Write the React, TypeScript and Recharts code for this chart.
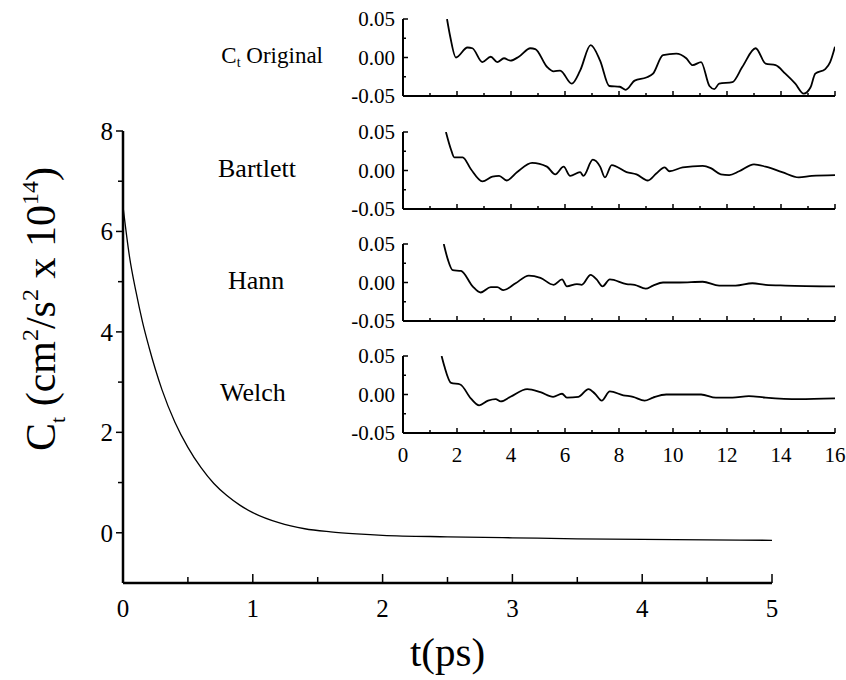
import React from "react";
import { LineChart, Line, XAxis, YAxis } from "recharts";

// main decay curve, C_t in units of 1e14 cm^2/s^2
const mainT = [0, 0.05, 0.1, 0.15, 0.2, 0.25, 0.3, 0.4, 0.5, 0.6, 0.7, 0.8, 0.9, 1.0, 1.2, 1.4, 1.6, 1.8, 2.0, 2.5, 3.0, 3.5, 4.0, 4.5, 5.0];
const mainC = [6.5, 5.5, 4.8, 4.2, 3.7, 3.25, 2.85, 2.2, 1.7, 1.3, 0.98, 0.74, 0.55, 0.4, 0.2, 0.08, 0.02, -0.02, -0.05, -0.08, -0.1, -0.12, -0.13, -0.14, -0.15];

// inset series (t in ps)
const origT = [1.63, 1.75, 1.96, 2.39, 2.57, 2.94, 3.25, 3.49, 3.74, 3.98, 4.29, 4.72, 4.9, 5.33, 5.58, 5.82, 6.25, 6.56, 6.95, 7.3, 7.64, 8.03, 8.25, 8.58, 9.01, 9.26, 9.63, 10.12, 10.49, 10.73, 11.04, 11.35, 11.53, 11.71, 12.2, 12.57, 13.06, 13.43, 13.8, 14.16, 14.53, 14.84, 15.09, 15.27, 15.64, 15.82, 16.0];
const origC = [0.05, 0.027, 0.0, 0.013, 0.012, -0.006, 0.001, -0.006, -0.001, -0.004, 0.001, 0.012, 0.011, -0.012, -0.018, -0.017, -0.034, -0.017, 0.016, -0.004, -0.037, -0.038, -0.042, -0.03, -0.026, -0.021, 0.003, 0.005, -0.001, -0.01, -0.006, -0.037, -0.041, -0.034, -0.032, -0.012, 0.012, -0.008, -0.01, -0.021, -0.034, -0.047, -0.039, -0.021, -0.015, -0.006, 0.014];

const bartT = [1.59, 1.78, 1.9, 2.21, 2.51, 2.94, 3.31, 3.56, 3.84, 4.23, 4.78, 5.33, 5.64, 5.95, 6.19, 6.56, 6.68, 7.03, 7.3, 7.48, 7.73, 8.28, 8.65, 9.07, 9.38, 9.69, 9.87, 10.36, 11.1, 11.4, 11.77, 12.08, 12.45, 13.0, 13.43, 14.04, 14.66, 15.14, 16.0];
const bartC = [0.05, 0.027, 0.017, 0.017, 0.002, -0.014, -0.008, -0.007, -0.013, -0.002, 0.01, 0.005, -0.005, 0.005, -0.007, -0.002, -0.007, 0.014, 0.005, -0.009, 0.007, -0.002, -0.005, -0.013, -0.004, 0.004, -0.001, 0.004, 0.006, 0.003, -0.005, -0.006, -0.001, 0.008, 0.005, -0.002, -0.009, -0.007, -0.006];

const hannT = [1.51, 1.66, 1.84, 2.15, 2.58, 2.88, 3.25, 3.49, 3.72, 4.17, 4.66, 5.09, 5.58, 5.89, 6.07, 6.44, 6.62, 6.95, 7.17, 7.39, 7.66, 8.28, 8.58, 8.99, 9.26, 9.63, 10.24, 11.1, 11.71, 12.32, 12.94, 13.43, 14.16, 16.0];
const hannC = [0.05, 0.03, 0.016, 0.015, -0.005, -0.013, -0.006, -0.006, -0.01, -0.001, 0.009, 0.006, -0.003, 0.004, -0.005, -0.002, -0.003, 0.01, 0.004, -0.005, 0.004, -0.002, -0.003, -0.008, -0.004, 0.0, 0.0, 0.001, -0.004, -0.004, -0.001, -0.003, -0.004, -0.005];

const welchT = [1.43, 1.53, 1.78, 2.12, 2.51, 2.82, 3.15, 3.43, 3.62, 3.98, 4.6, 5.09, 5.56, 5.89, 6.07, 6.5, 6.87, 7.11, 7.36, 7.66, 8.16, 8.52, 8.95, 9.26, 9.75, 10.49, 11.04, 11.59, 12.2, 12.81, 13.43, 14.66, 16.0];
const welchC = [0.05, 0.037, 0.015, 0.013, -0.005, -0.014, -0.008, -0.006, -0.009, -0.003, 0.007, 0.003, -0.003, 0.001, -0.004, -0.003, 0.007, 0.001, -0.008, 0.004, -0.001, -0.003, -0.008, -0.004, 0.0, 0.0, 0.0, -0.004, -0.004, -0.002, -0.004, -0.006, -0.005];

const mainXTicks = [0, 0.5, 1, 1.5, 2, 2.5, 3, 3.5, 4, 4.5, 5];
const mainYTicks = [0, 1, 2, 3, 4, 5, 6, 7, 8];
const insetXTicks = [0, 1, 2, 3, 4, 5, 6, 7, 8, 9, 10, 11, 12, 13, 14, 15, 16];
const insetYTicks = [-0.05, -0.025, 0, 0.025, 0.05];

const SERIF = '"Liberation Serif", "Times New Roman", serif';

const toRows = (ts: number[], vs: number[]) => ts.map((t, i) => ({ t, c: vs[i] }));

const mainData = toRows(mainT, mainC);

const insets = [
  { name: "original", data: toRows(origT, origC), top: 19 },
  { name: "bartlett", data: toRows(bartT, bartC), top: 132 },
  { name: "hann", data: toRows(hannT, hannC), top: 244 },
  { name: "welch", data: toRows(welchT, welchC), top: 356 },
];

const INSET_H = 77;

function MainXTick(props: any) {
  const { x, y, payload } = props;
  const v = payload.value;
  const major = Number.isInteger(v);
  return (
    <g>
      <line x1={x} y1={y} x2={x} y2={y - (major ? 9 : 6)} stroke="#000" strokeWidth={1.5} />
      {major && (
        <text x={x} y={y + 34} textAnchor="middle" fontSize={25} fontFamily={SERIF} fill="#000">
          {v}
        </text>
      )}
    </g>
  );
}

function MainYTick(props: any) {
  const { x, y, payload } = props;
  const v = payload.value;
  const major = v % 2 === 0;
  return (
    <g>
      <line x1={x} y1={y} x2={x - (major ? 7 : 5)} y2={y} stroke="#000" strokeWidth={1.5} />
      {major && (
        <text x={x - 10} y={y} dy="0.35em" textAnchor="end" fontSize={25} fontFamily={SERIF} fill="#000">
          {v}
        </text>
      )}
    </g>
  );
}

function InsetXTick(props: any) {
  const { x, y, payload, showLabels, dir } = props;
  const v = payload.value;
  const major = v % 2 === 0;
  const len = major ? 5 : 3;
  return (
    <g>
      <line x1={x} y1={y} x2={x} y2={y + dir * len} stroke="#000" strokeWidth={1.5} />
      {showLabels && major && (
        <text x={x} y={y + 29} textAnchor="middle" fontSize={21} fontFamily={SERIF} fill="#000">
          {v}
        </text>
      )}
    </g>
  );
}

function InsetYTick(props: any) {
  const { x, y, payload, showLabels, dir } = props;
  const v = payload.value;
  const major = Math.round(v * 40) % 2 === 0;
  const len = major ? 5 : 3;
  return (
    <g>
      <line x1={x} y1={y} x2={x + dir * len} y2={y} stroke="#000" strokeWidth={1.5} />
      {showLabels && major && (
        <text x={x - 8} y={y} dy="0.35em" textAnchor="end" fontSize={21} fontFamily={SERIF} fill="#000">
          {v.toFixed(2)}
        </text>
      )}
    </g>
  );
}

function YTitle(props: any) {
  const { viewBox } = props;
  const cx = 55;
  const cy = viewBox.y + 178;
  return (
    <text
      x={cx}
      y={cy}
      transform={`rotate(-90 ${cx} ${cy})`}
      textAnchor="middle"
      fontSize={42}
      fontFamily={SERIF}
      fill="#000"
    >
      C
      <tspan fontSize={22} dy={10}>t</tspan>
      <tspan dy={-10}> (cm</tspan>
      <tspan fontSize={24} dy={-17}>2</tspan>
      <tspan dy={17}>/s</tspan>
      <tspan fontSize={24} dy={-17}>2</tspan>
      <tspan dy={17}> x 10</tspan>
      <tspan fontSize={24} dy={-17}>14</tspan>
      <tspan dy={17}>)</tspan>
    </text>
  );
}

function XTitle(props: any) {
  const { viewBox } = props;
  return (
    <text
      x={viewBox.x + viewBox.width / 2}
      y={viewBox.y + 83}
      textAnchor="middle"
      fontSize={41}
      fontFamily={SERIF}
      fill="#000"
    >
      t(ps)
    </text>
  );
}

function Inset({ data, top, showX }: { data: { t: number; c: number }[]; top: number; showX: boolean }) {
  const padTop = 12;
  const bottom = showX ? 36 : 14;
  const h = padTop + INSET_H + bottom;
  const axisStyle = { stroke: "#000", strokeWidth: 2 };
  return (
    <div style={{ position: "absolute", left: 330, top: top - padTop, width: 516, height: h }}>
      <LineChart width={516} height={h} data={data} margin={{ top: padTop, right: 11, left: 0, bottom: 0 }}>
        <XAxis
          dataKey="t"
          type="number"
          domain={[0, 16]}
          ticks={insetXTicks}
          interval={0}
          tickSize={0}
          tickMargin={0}
          height={bottom}
          axisLine={axisStyle}
          tickLine={false}
          tick={<InsetXTick showLabels={showX} dir={-1} />}
          allowDataOverflow
        />
        <XAxis
          xAxisId="top"
          orientation="top"
          dataKey="t"
          type="number"
          domain={[0, 16]}
          ticks={insetXTicks}
          interval={0}
          tickSize={0}
          tickMargin={0}
          height={0}
          axisLine={axisStyle}
          tickLine={false}
          tick={<InsetXTick showLabels={false} dir={1} />}
          allowDataOverflow
        />
        <YAxis
          type="number"
          domain={[-0.05, 0.05]}
          ticks={insetYTicks}
          interval={0}
          tickSize={0}
          tickMargin={0}
          width={73}
          axisLine={axisStyle}
          tickLine={false}
          tick={<InsetYTick showLabels={true} dir={1} />}
          allowDataOverflow
        />
        <YAxis
          yAxisId="right"
          orientation="right"
          type="number"
          domain={[-0.05, 0.05]}
          ticks={insetYTicks}
          interval={0}
          tickSize={0}
          tickMargin={0}
          width={0}
          axisLine={axisStyle}
          tickLine={false}
          tick={<InsetYTick showLabels={false} dir={-1} />}
          allowDataOverflow
        />
        <Line type="monotone" dataKey="c" stroke="#000" strokeWidth={1.8} dot={false} isAnimationActive={false} />
      </LineChart>
    </div>
  );
}

const labelStyle: React.CSSProperties = {
  position: "absolute",
  fontFamily: SERIF,
  fontSize: 26,
  lineHeight: "30px",
  color: "#000",
  whiteSpace: "nowrap",
};

export default function App() {
  return (
    <div style={{ position: "absolute", left: 0, top: 0, width: 846, height: 680, background: "#fff" }}>
      <LineChart width={846} height={680} data={mainData} margin={{ top: 131, right: 74, left: 0, bottom: 0 }}>
        <XAxis
          dataKey="t"
          type="number"
          domain={[0, 5]}
          ticks={mainXTicks}
          interval={0}
          tickSize={0}
          tickMargin={0}
          height={97}
          axisLine={{ stroke: "#000", strokeWidth: 2.5 }}
          tickLine={false}
          tick={<MainXTick />}
          label={<XTitle />}
        />
        <YAxis
          type="number"
          domain={[-1, 8]}
          ticks={mainYTicks}
          interval={0}
          tickSize={0}
          tickMargin={0}
          width={123}
          axisLine={{ stroke: "#000", strokeWidth: 2.5 }}
          tickLine={false}
          tick={<MainYTick />}
          label={<YTitle />}
        />
        <Line type="monotone" dataKey="c" stroke="#000" strokeWidth={1.3} dot={false} isAnimationActive={false} />
      </LineChart>

      {insets.map((s, i) => (
        <Inset key={s.name} data={s.data} top={s.top} showX={i === insets.length - 1} />
      ))}

      <div style={{ ...labelStyle, fontSize: 23, right: 846 - 323, top: 19 + INSET_H / 2 - 17 }}>
        C<sub style={{ fontSize: 14, verticalAlign: "-4px" }}>t</sub> Original
      </div>
      <div style={{ ...labelStyle, left: 218, top: 132 + INSET_H / 2 - 17 }}>Bartlett</div>
      <div style={{ ...labelStyle, left: 228, top: 244 + INSET_H / 2 - 17 }}>Hann</div>
      <div style={{ ...labelStyle, left: 220, top: 356 + INSET_H / 2 - 17 }}>Welch</div>
    </div>
  );
}
